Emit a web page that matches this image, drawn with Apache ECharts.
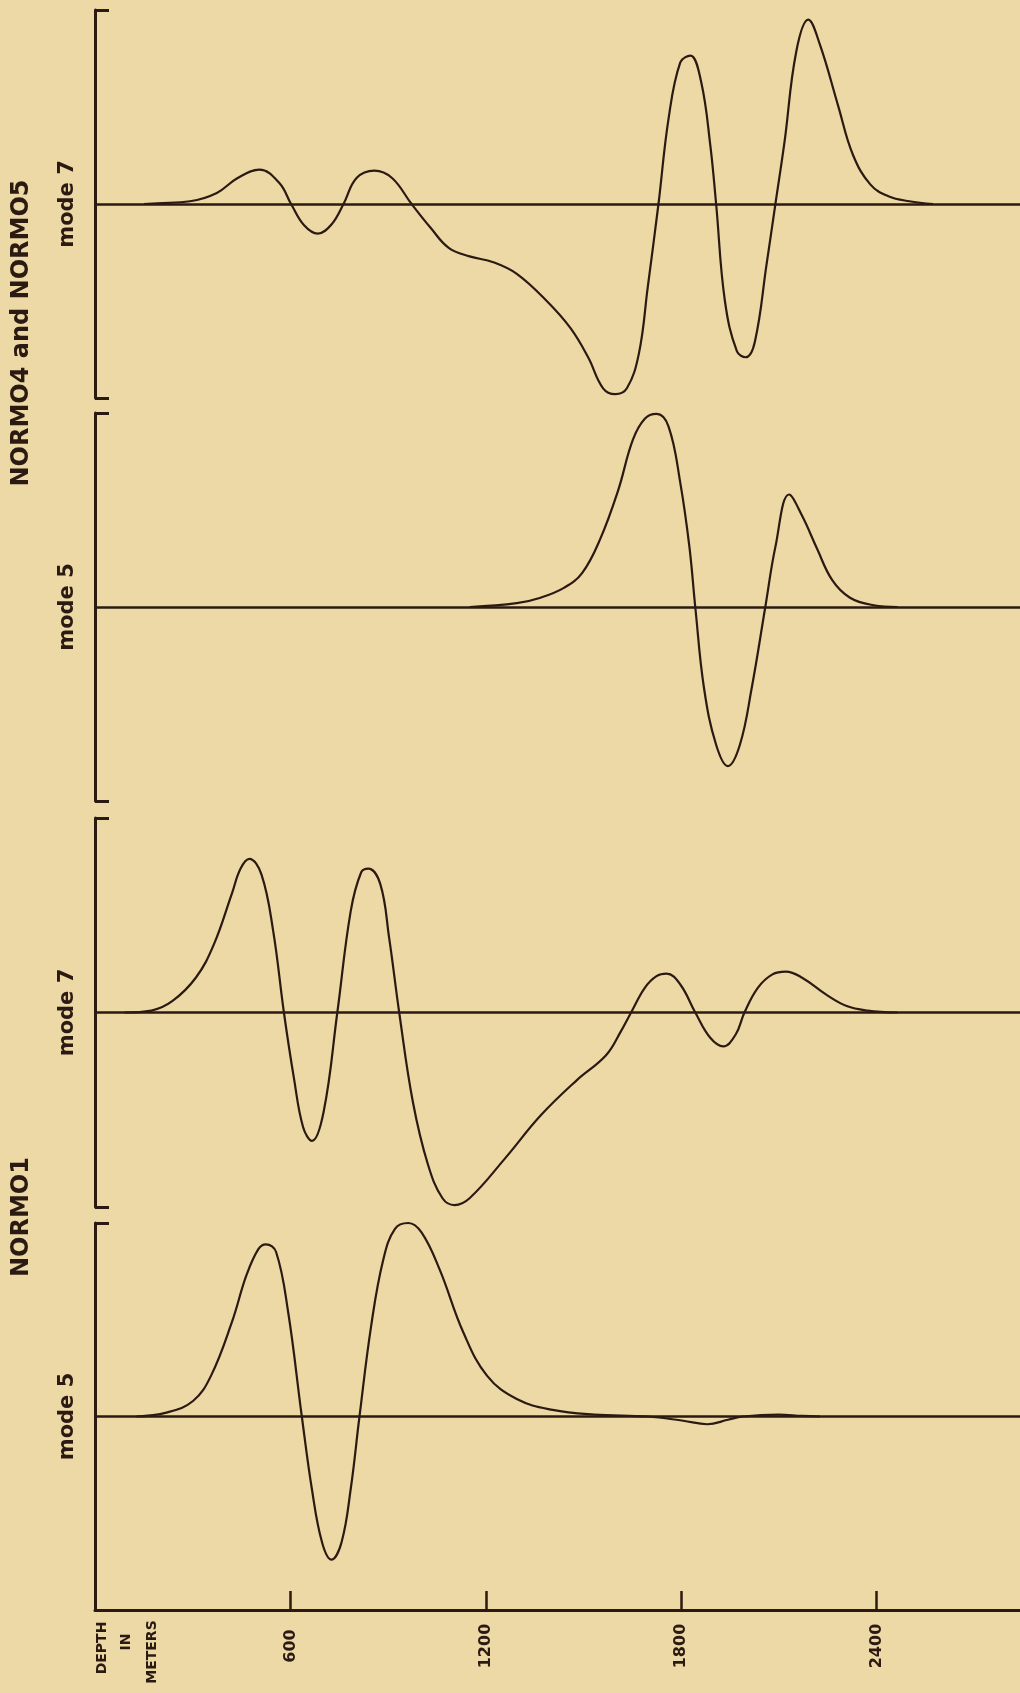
<!DOCTYPE html>
<html>
<head>
<meta charset="utf-8">
<script src="https://cdn.jsdelivr.net/npm/echarts@6/dist/echarts.min.js"></script>
<style>
  html, body { margin: 0; padding: 0; background: #ecd9a6; }
  #chart { width: 1020px; height: 1693px; }
</style>
</head>
<body>
<div id="chart"></div>
<script>
// depth in meters, amplitude scaled so the bracket spans -1..1
var n45Mode7Depth = [150, 191, 292, 374, 438, 505, 566, 602, 642, 684, 726, 763, 803, 858, 912, 972, 1031, 1086, 1150, 1223, 1295, 1387, 1460, 1514, 1560, 1597, 1633, 1670, 1697, 1730, 1761, 1797, 1828, 1861, 1889, 1907, 1934, 1971, 1998, 2026, 2062, 2089, 2117, 2153, 2190, 2226, 2281, 2327, 2381, 2436, 2500, 2573];
var n45Mode7Amp = [0, 0.004, 0.014, 0.057, 0.134, 0.177, 0.108, 0, -0.11, -0.153, -0.106, 0, 0.134, 0.172, 0.134, 0, -0.124, -0.226, -0.27, -0.30, -0.36, -0.50, -0.64, -0.79, -0.95, -0.98, -0.95, -0.77, -0.43, 0, 0.44, 0.73, 0.765, 0.63, 0.305, 0, -0.50, -0.76, -0.79, -0.71, -0.31, 0, 0.32, 0.785, 0.95, 0.82, 0.51, 0.254, 0.10, 0.04, 0.014, 0];

var n45Mode5Depth = [1150, 1295, 1368, 1441, 1496, 1551, 1606, 1651, 1688, 1724, 1761, 1797, 1825, 1843, 1870, 1907, 1943, 1980, 2016, 2058, 2089, 2131, 2171, 2217, 2263, 2318, 2391, 2464];
var n45Mode5Amp = [0, 0.02, 0.048, 0.10, 0.176, 0.35, 0.60, 0.86, 0.97, 0.995, 0.93, 0.64, 0.31, 0, -0.42, -0.71, -0.82, -0.71, -0.42, 0, 0.31, 0.58, 0.47, 0.30, 0.14, 0.048, 0.009, 0];

var n1Mode7Depth = [91, 173, 237, 310, 365, 420, 447, 474, 511, 547, 580, 611, 639, 666, 702, 744, 785, 817, 839, 876, 903, 934, 976, 1022, 1067, 1104, 1150, 1259, 1368, 1478, 1569, 1615, 1646, 1688, 1724, 1755, 1797, 1843, 1889, 1929, 1967, 1994, 2035, 2080, 2121, 2171, 2244, 2308, 2372, 2464];
var n1Mode7Amp = [0, 0.01, 0.058, 0.18, 0.35, 0.61, 0.74, 0.79, 0.71, 0.42, 0, -0.34, -0.59, -0.66, -0.51, 0, 0.52, 0.72, 0.74, 0.66, 0.385, 0, -0.46, -0.78, -0.955, -0.99, -0.955, -0.75, -0.53, -0.35, -0.22, -0.096, 0, 0.127, 0.187, 0.20, 0.144, 0, -0.13, -0.174, -0.113, 0, 0.127, 0.196, 0.21, 0.179, 0.093, 0.033, 0.01, 0];

var n1Mode5Depth = [127, 219, 301, 356, 420, 465, 502, 525, 556, 593, 635, 666, 697, 726, 757, 785, 812, 848, 885, 921, 962, 1003, 1058, 1131, 1204, 1295, 1405, 1533, 1697, 1806, 1880, 1943, 1989, 2099, 2171, 2226];
var n1Mode5Amp = [0, 0.02, 0.08, 0.21, 0.486, 0.73, 0.866, 0.89, 0.85, 0.54, 0, -0.376, -0.65, -0.74, -0.65, -0.376, 0, 0.47, 0.81, 0.97, 1.0, 0.95, 0.76, 0.434, 0.21, 0.09, 0.034, 0.01, 0, -0.022, -0.04, -0.017, 0, 0.01, 0.003, 0];

var depthTicks = [600, 1200, 1800, 2400];
var modeLabels = ['mode 7', 'mode 5', 'mode 7', 'mode 5'];

var ink = '#2b1a12';
var paper = '#ecd9a6';
var font = '"DejaVu Sans", sans-serif';

var curves = [
  [n45Mode7Depth, n45Mode7Amp],
  [n45Mode5Depth, n45Mode5Amp],
  [n1Mode7Depth, n1Mode7Amp],
  [n1Mode5Depth, n1Mode5Amp]
];

// panel boxes in pixels (top, height)
var panels = [[10, 388], [413, 388], [818, 389], [1223, 387]];

function pairs(xs, ys) {
  var out = [];
  for (var i = 0; i < xs.length; i++) out.push([xs[i], ys[i]]);
  return out;
}

var grids = [], xAxes = [], yAxes = [], series = [];
panels.forEach(function (p, i) {
  var last = i === panels.length - 1;
  grids.push({ left: 95, right: 0, top: p[0], height: p[1] });
  xAxes.push({
    gridIndex: i, type: 'value', min: 0, max: 2840,
    show: last, position: 'bottom',
    axisLine: { show: last, onZero: false, lineStyle: { color: ink, width: 3 } },
    axisTick: { show: last, inside: true, length: 19, customValues: depthTicks, lineStyle: { color: ink, width: 2.5 } },
    axisLabel: {
      show: last, customValues: depthTicks, rotate: 90, align: 'center', verticalAlign: 'middle',
      margin: 36, color: ink, fontSize: 16, fontWeight: 'bold', fontFamily: font,
      formatter: function (v) { return String(v); }
    },
    splitLine: { show: false }
  });
  yAxes.push({
    gridIndex: i, type: 'value', min: -1, max: 1, interval: 2,
    axisLine: { show: true, onZero: false, lineStyle: { color: ink, width: 3 } },
    axisTick: { show: true, inside: true, length: 14, lineStyle: { color: ink, width: 3 } },
    axisLabel: { show: false },
    splitLine: { show: false }
  });
  series.push({
    type: 'line', xAxisIndex: i, yAxisIndex: i,
    data: pairs(curves[i][0], curves[i][1]),
    smooth: 0.4, showSymbol: false, clip: false,
    lineStyle: { color: ink, width: 2.2 },
    markLine: {
      silent: true, symbol: 'none', label: { show: false },
      lineStyle: { color: ink, width: 2.6, type: 'solid' },
      data: [{ yAxis: 0 }]
    }
  });
});

function vtext(txt, x, y, size) {
  return {
    type: 'text', x: x, y: y, rotation: Math.PI / 2,
    style: {
      text: txt, fill: ink, font: 'bold ' + size + 'px ' + font,
      align: 'center', verticalAlign: 'middle',
      textAlign: 'center', textVerticalAlign: 'middle'
    }
  };
}

var graphics = [
  vtext('NORMO4 and NORMO5', 22, 333, 24),
  vtext('NORMO1', 22, 1217, 24)
];
modeLabels.forEach(function (m, i) {
  graphics.push(vtext(m, 68, panels[i][0] + panels[i][1] / 2, 21));
});
graphics.push(vtext('DEPTH', 102, 1648, 14));
graphics.push(vtext('IN', 126, 1642, 14));
graphics.push(vtext('METERS', 152, 1652, 14));

var chart = echarts.init(document.getElementById('chart'));
chart.setOption({
  backgroundColor: paper,
  animation: false,
  grid: grids,
  xAxis: xAxes,
  yAxis: yAxes,
  series: series,
  graphic: graphics
});
</script>
</body>
</html>
